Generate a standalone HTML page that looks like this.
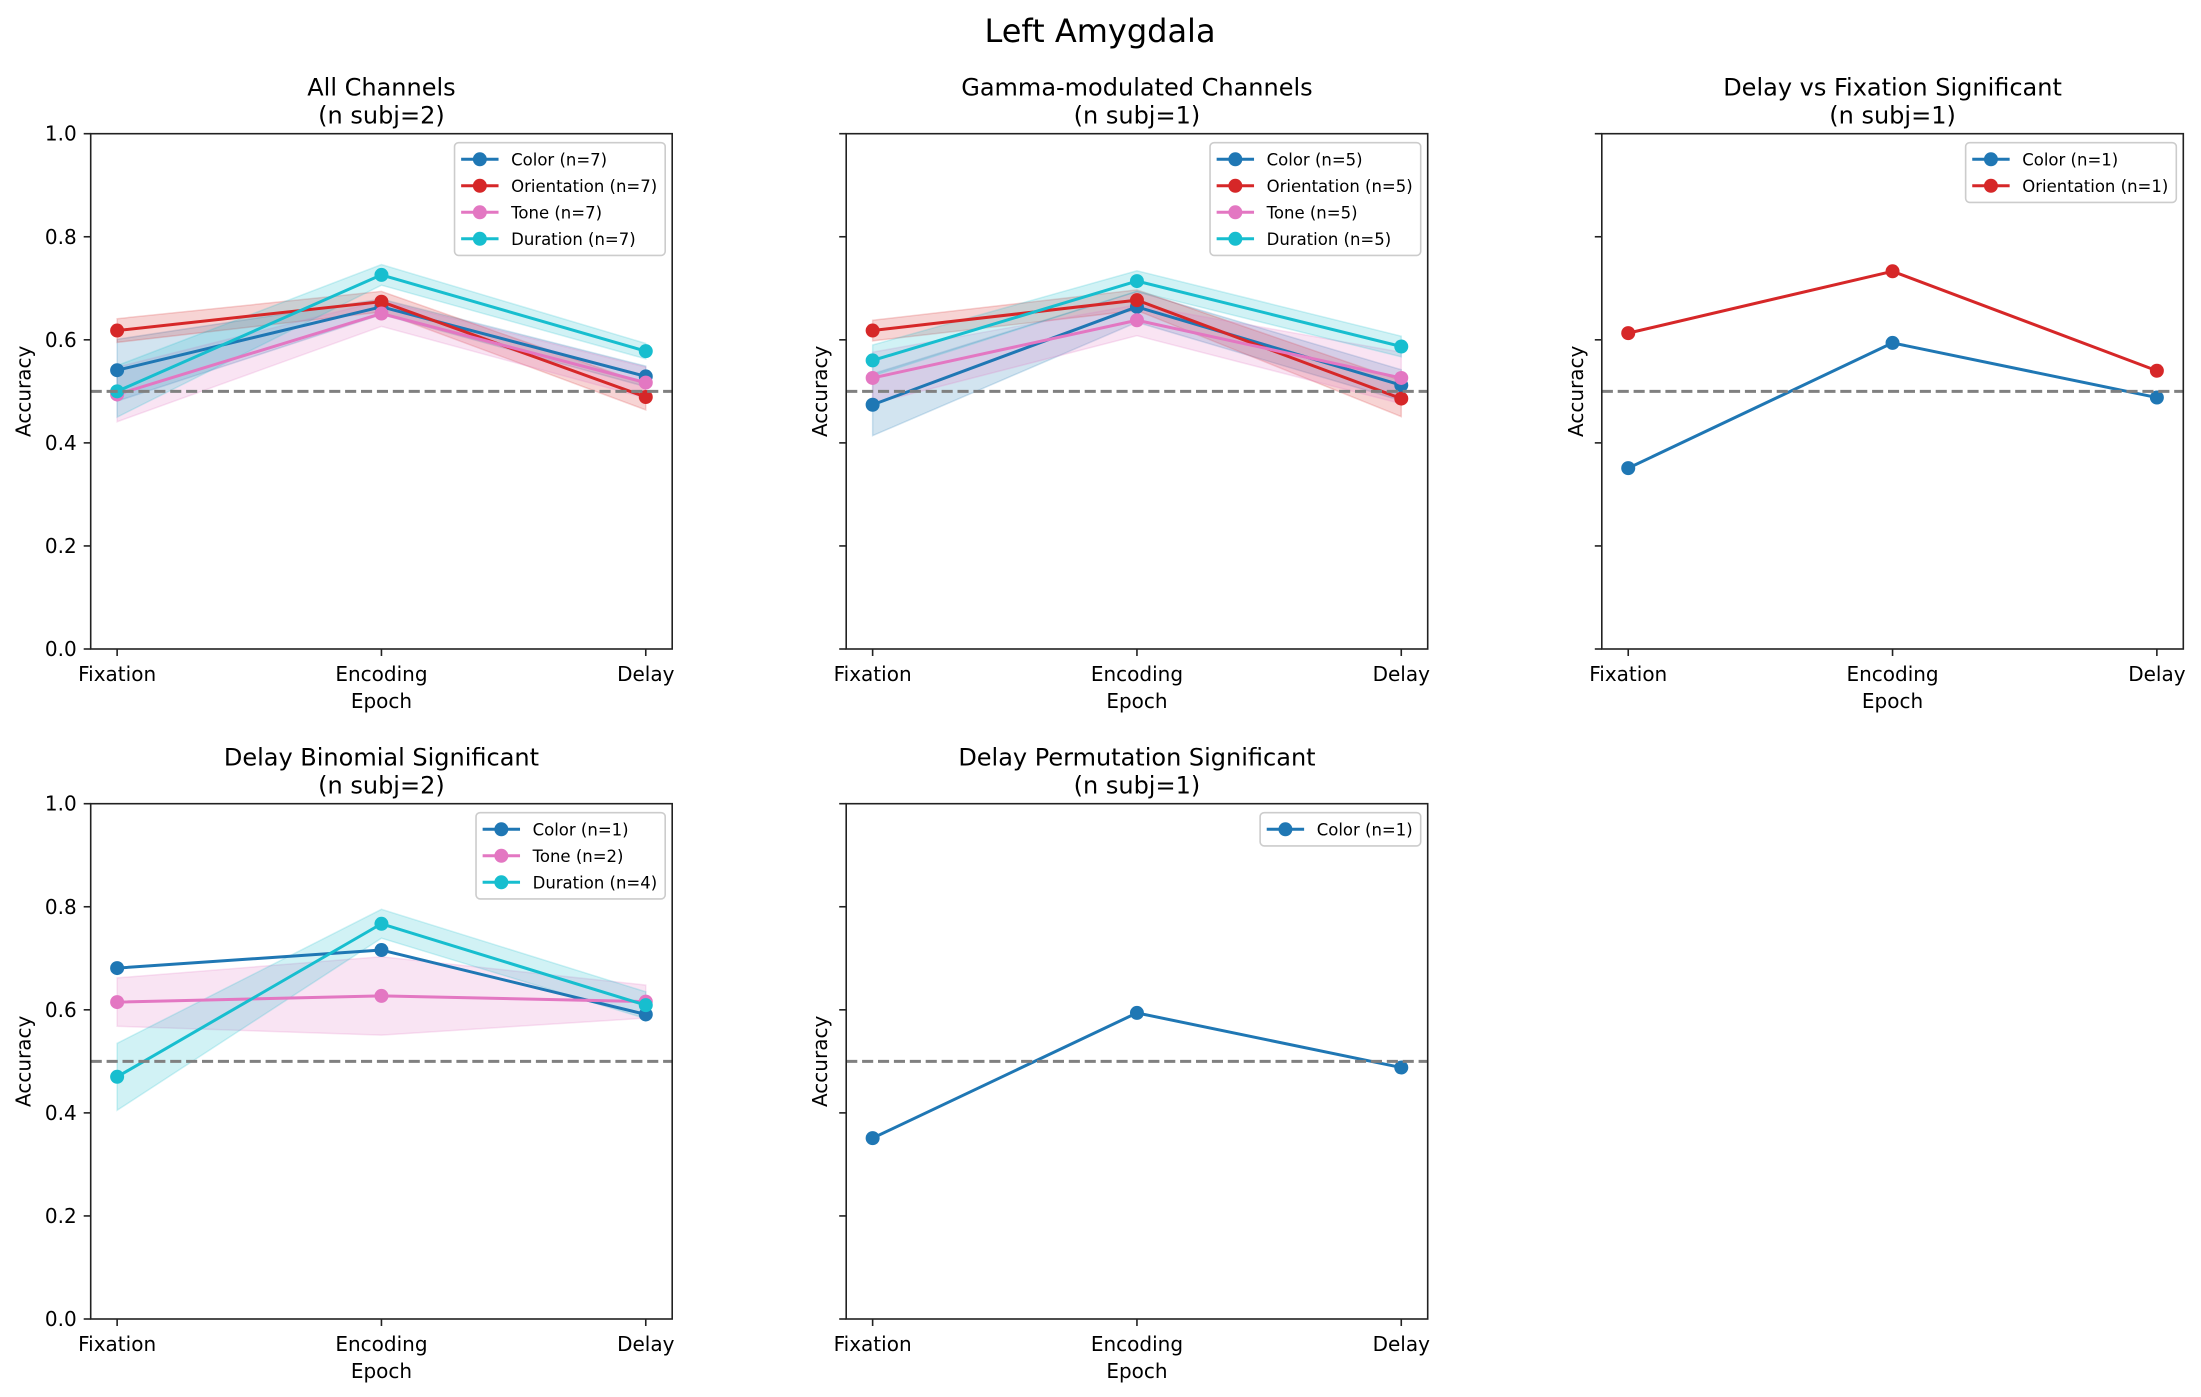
<!DOCTYPE html>
<html><head><meta charset="utf-8"><style>
html,body{margin:0;padding:0;background:#fff;}
svg{display:block;font-family:"DejaVu Sans","Liberation Sans",sans-serif;}
</style></head><body>
<svg id="fig" width="2201" height="1397" viewBox="0 0 2201 1397" xmlns="http://www.w3.org/2000/svg">
<rect width="2201" height="1397" fill="#fff"/>
<text x="1100" y="42" font-size="32" text-anchor="middle">Left Amygdala</text>
</svg>
<script>
const epochs = ["Fixation","Encoding","Delay"];
const yTicks = [0.0,0.2,0.4,0.6,0.8,1.0];
const yTickLabels = ["0.0","0.2","0.4","0.6","0.8","1.0"];
const chance = 0.5;

// Panel 1: All Channels
const p1Color = [0.541,0.664,0.529];   const p1ColorErr = [0.06,0.015,0.02];
const p1Orient = [0.618,0.674,0.489];  const p1OrientErr = [0.023,0.02,0.025];
const p1Tone = [0.494,0.651,0.517];    const p1ToneErr = [0.053,0.025,0.03];
const p1Dur = [0.500,0.726,0.578];     const p1DurErr = [0.05,0.02,0.015];
// Panel 2: Gamma-modulated
const p2Color = [0.474,0.664,0.512];   const p2ColorErr = [0.06,0.03,0.03];
const p2Orient = [0.618,0.677,0.486];  const p2OrientErr = [0.02,0.02,0.035];
const p2Tone = [0.526,0.638,0.526];    const p2ToneErr = [0.05,0.03,0.05];
const p2Dur = [0.560,0.714,0.587];     const p2DurErr = [0.03,0.02,0.02];
// Panel 3: Delay vs Fixation
const p3Color = [0.351,0.594,0.488];
const p3Orient = [0.613,0.733,0.540];
// Panel 4: Delay Binomial
const p4Color = [0.681,0.716,0.591];
const p4Tone = [0.615,0.627,0.616];    const p4ToneErr = [0.047,0.076,0.032];
const p4Dur = [0.470,0.767,0.609];     const p4DurErr = [0.065,0.028,0.026];
// Panel 5: Delay Permutation
const p5Color = [0.351,0.594,0.488];

const C = {color:"#1f77b4", orient:"#d62728", tone:"#e377c2", dur:"#17becf"};
const NS = "http://www.w3.org/2000/svg";
const svg = document.getElementById("fig");
function el(tag, attrs, parent){const e=document.createElementNS(NS,tag);for(const k in attrs)e.setAttribute(k,attrs[k]);(parent||svg).appendChild(e);return e;}

const W = 581.5, H = 515.3;
const panels = [
 {l:90.7,t:133.7,title:"All Channels",sub:"(n subj=2)",ylabels:true,series:[
  {name:"Color (n=7)",c:C.color,v:p1Color,e:p1ColorErr},
  {name:"Orientation (n=7)",c:C.orient,v:p1Orient,e:p1OrientErr},
  {name:"Tone (n=7)",c:C.tone,v:p1Tone,e:p1ToneErr},
  {name:"Duration (n=7)",c:C.dur,v:p1Dur,e:p1DurErr}]},
 {l:846.2,t:133.7,title:"Gamma-modulated Channels",sub:"(n subj=1)",ylabels:false,series:[
  {name:"Color (n=5)",c:C.color,v:p2Color,e:p2ColorErr},
  {name:"Orientation (n=5)",c:C.orient,v:p2Orient,e:p2OrientErr},
  {name:"Tone (n=5)",c:C.tone,v:p2Tone,e:p2ToneErr},
  {name:"Duration (n=5)",c:C.dur,v:p2Dur,e:p2DurErr}]},
 {l:1601.8,t:133.7,title:"Delay vs Fixation Significant",sub:"(n subj=1)",ylabels:false,series:[
  {name:"Color (n=1)",c:C.color,v:p3Color,e:null},
  {name:"Orientation (n=1)",c:C.orient,v:p3Orient,e:null}]},
 {l:90.7,t:803.7,title:"Delay Binomial Significant",sub:"(n subj=2)",ylabels:true,series:[
  {name:"Color (n=1)",c:C.color,v:p4Color,e:null},
  {name:"Tone (n=2)",c:C.tone,v:p4Tone,e:p4ToneErr},
  {name:"Duration (n=4)",c:C.dur,v:p4Dur,e:p4DurErr}]},
 {l:846.2,t:803.7,title:"Delay Permutation Significant",sub:"(n subj=1)",ylabels:false,series:[
  {name:"Color (n=1)",c:C.color,v:p5Color,e:null}]}
];

panels.forEach((p,pi)=>{
  const g = el("g",{});
  
  
  const xs = i => p.l + (i+0.1)/2.2*W;
  const ys = v => p.t + H - v*H;
  const b = p.t+H, r = p.l+W;
  const t1 = el("text",{x:p.l+W/2,y:p.t-38,"font-size":24,"text-anchor":"middle"},g);
  t1.textContent=p.title;
  
  
  const t2 = el("text",{x:p.l+W/2,y:p.t-10,"font-size":24,"text-anchor":"middle"},g);
  t2.textContent=p.sub;
  
  
  p.series.forEach(s=>{
    if(!s.e) return;
    let pts=[];
    s.v.forEach((v,i)=>pts.push(xs(i)+","+ys(v+s.e[i])));
    for(let i=s.v.length-1;i>=0;i--) pts.push(xs(i)+","+ys(s.v[i]-s.e[i]));
    const f = el("polygon",{points:pts.join(" "),fill:s.c,"fill-opacity":0.2,stroke:s.c,"stroke-opacity":0.2,"stroke-width":1.5},g);
    
    
  });
  p.series.forEach(s=>{
    const pts = s.v.map((v,i)=>xs(i)+","+ys(v)).join(" ");
    const ln = el("polyline",{points:pts,fill:"none",stroke:s.c,"stroke-width":3,"stroke-linejoin":"round"},g);
    
    
    s.v.forEach((v,i)=>{
      const m = el("circle",{cx:xs(i),cy:ys(v),r:7,fill:s.c},g);
      
      
    });
  });
  const cl = el("line",{x1:p.l,x2:r,y1:ys(chance),y2:ys(chance),stroke:"#808080","stroke-width":3,"stroke-dasharray":"11.1 4.8"},g);
  
  
  const fr = el("rect",{x:p.l,y:p.t,width:W,height:H,fill:"none",stroke:"#222","stroke-width":1.6},g);
  
  
  yTicks.forEach((v,i)=>{
    el("line",{x1:p.l-7,x2:p.l,y1:ys(v),y2:ys(v),stroke:"#222","stroke-width":1.6},g);
    if(p.ylabels){
      const tl = el("text",{x:p.l-14,y:ys(v)+7,"font-size":20,"text-anchor":"end"},g);
      tl.textContent=yTickLabels[i];
      
      
    }
  });
  epochs.forEach((e,i)=>{
    el("line",{x1:xs(i),x2:xs(i),y1:b,y2:b+7,stroke:"#222","stroke-width":1.6},g);
    const tl = el("text",{x:xs(i),y:b+32,"font-size":20,"text-anchor":"middle"},g);
    tl.textContent=e;
    
    
  });
  const xl = el("text",{x:p.l+W/2,y:b+59,"font-size":20,"text-anchor":"middle"},g);
  xl.textContent="Epoch";
  
  
  const lx = p.ylabels ? p.l-67 : p.l-26;
  const yl = el("text",{x:lx+7,y:p.t+H/2,"font-size":20,"text-anchor":"middle",transform:"rotate(-90 "+(lx+7)+" "+(p.t+H/2)+")"},g);
  yl.textContent="Accuracy";
  
  
  const lg = el("g",{},g);
  
  
  const box = el("rect",{x:0,y:p.t+9,width:10,height:33.2+(p.series.length-1)*26.5,rx:4,fill:"#fff","fill-opacity":0.8,stroke:"#ccc","stroke-width":1.6},lg);
  let maxW = 0; const texts=[]; const items=[];
  p.series.forEach((s,i)=>{
    const cy = p.t+9+16.6+i*26.5;
    const it = el("g",{},lg);
    
    
    const tx = el("text",{x:0,y:cy+6,"font-size":16.5},it);
    tx.textContent=s.name;
    maxW=Math.max(maxW,tx.getComputedTextLength());
    texts.push(tx); items.push({it,cy,c:s.c});
  });
  const boxR = r-7, boxW = 56.6+maxW+8, boxL = boxR-boxW;
  box.setAttribute("x",boxL); box.setAttribute("width",boxW);
  texts.forEach(t=>t.setAttribute("x",boxL+56.6));
  items.forEach(o=>{
    el("line",{x1:boxL+6.6,x2:boxL+44,y1:o.cy,y2:o.cy,stroke:o.c,"stroke-width":3},o.it);
    el("circle",{cx:boxL+25.3,cy:o.cy,r:7,fill:o.c},o.it);
  });
});
</script>
</body></html>
